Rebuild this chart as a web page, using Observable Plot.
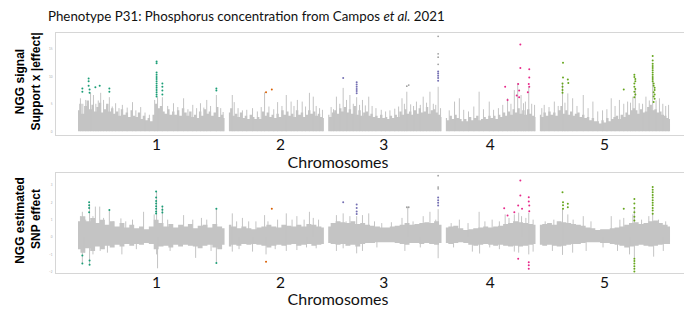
<!DOCTYPE html>
<html><head><meta charset="utf-8">
<script src="https://cdn.jsdelivr.net/npm/d3@7"></script>
<script src="https://cdn.jsdelivr.net/npm/@observablehq/plot@0.6"></script>
<style>
body{margin:0;background:#fff;}
#root{width:684px;height:312px;position:relative;overflow:hidden;background:#fff;}
#title{position:absolute;left:48px;top:10px;font-family:Lato,sans-serif;font-size:13.3px;line-height:13px;color:#111;white-space:nowrap;z-index:2;}
#p1{position:absolute;left:0;top:28px;}
#p2{position:absolute;left:0;top:170px;}
</style>
</head><body>
<div id="root">
  <div id="title">Phenotype P31: Phosphorus concentration from Campos <i>et al.</i> 2021</div>
  <div id="p1"></div>
  <div id="p2"></div>
</div>
<script>
// ---------- data ----------
const chromNames = ["1","2","3","4","5"];
const chromLengths = [30.4, 19.7, 23.5, 18.6, 27.0];   // Mb
const labelAt = [16.2, 10.6, 11.4, 9.1, 13.3];         // Mb within chromosome
const chromColors = ["#1b9e77","#d95f02","#7570b3","#e7298a","#66a61e"];
const topTicks = [0, 5, 10, 15];
const bottomTicks = [-2, -1, 0, 1, 2, 3];

// Top panel: dense envelope, ~0.5 Mb steps along each chromosome
const topBase1 = [3.8,5.0,3.2,4.6, 5.6,4.0,4.8,3.6, 4.4,5.2,3.4,4.0, 5.0,3.6,4.2,3.2, 3.6,2.8,4.0,3.0, 3.4,2.6,3.8,2.8, 2.6,3.4,2.2,2.8, 2.0,2.4,1.8,3.0, 5.0,4.2,4.6,3.6, 3.2,4.0,3.0,3.6, 3.0,3.8,2.8,4.2, 3.4,2.8,3.6,2.6, 3.0,2.4,3.6,2.8, 4.0,3.2,3.6,2.8, 3.4,4.4,2.6,3.0, 2.4];
const topBase2 = [3.4,4.2,2.8,3.2, 2.6,3.4,2.4,2.8, 2.2,3.0,2.6,2.2, 2.6,2.2,3.6,2.8, 3.4,2.6,3.0,2.4, 3.2,2.6,3.8,3.0, 3.6,2.8,3.2,2.6, 3.8,3.0,3.4,2.6, 3.0,3.8,3.2,3.6, 2.8,3.2,2.6,2.4];
const topBase3 = [3.0,2.6,3.4,3.8, 3.2,4.2,3.6,4.4, 3.4,4.0,3.2,4.6, 3.0,3.8,2.8,3.4, 3.6,2.8,3.2,2.6, 2.8,2.4,3.0,2.4, 2.6,2.2,2.8,2.4, 3.0,2.6,3.6,3.0, 4.0,3.2,3.6,3.0, 3.8,3.2,4.2,3.4, 3.6,4.4,3.2,3.8, 4.0,3.4,3.0,2.6];
const topBase4 = [2.4,2.0,2.8,2.2, 3.0,2.4,2.2,1.8, 2.2,1.8,2.6,2.0, 2.4,2.8,2.0,2.2, 2.6,2.2,2.8,2.4, 2.8,2.2,3.0,2.6, 3.4,2.8,3.6,3.0, 4.0,3.4,4.2,3.2, 3.8,3.0,4.0,3.2, 2.8,2.6];
const topBase5 = [3.0,2.6,3.4,2.8, 3.6,3.0,3.4,2.8, 3.8,4.6,3.2,3.8, 3.0,3.6,2.8,3.2, 3.4,2.6,3.0,2.4, 2.6,2.0,2.4,1.8, 1.8,1.4,2.0,1.6, 2.4,1.8,2.2,2.6, 2.8,2.2,3.0,2.6, 3.4,3.0,3.8,4.2, 3.8,3.2,4.0,3.4, 3.6,4.4,4.8,3.8, 4.0,3.4,3.6,3.0, 2.8,2.4,2.2];

// Top panel: spikes [position Mb, value]
const topSpikes1 = [[0.4,6.0],[0.9,5.0],[1.5,5.7],[2.0,5.2],[2.5,7.0],[3.1,6.6],[3.6,5.0],[4.1,5.6],[4.6,7.0],[5.2,5.7],[5.8,4.6],[6.4,6.2],[7.0,4.5],[7.7,5.1],[8.4,4.2],[9.1,4.8],[10.1,4.3],[11.2,5.3],[11.9,3.8],[12.9,4.4],[13.8,3.4],[14.7,3.0],[15.8,5.7],[16.4,6.2],[17.4,6.2],[18.5,4.6],[19.7,5.1],[20.6,4.4],[21.8,6.0],[22.7,4.0],[23.7,4.8],[24.5,4.2],[25.3,5.1],[26.0,4.3],[26.6,5.7],[27.4,4.6],[28.6,6.6],[29.5,4.2],[30.0,3.5]];
const topSpikes2 = [[0.6,6.6],[1.0,5.3],[1.8,4.2],[2.7,3.8],[3.6,3.9],[4.8,4.2],[5.8,3.6],[6.6,4.4],[7.3,7.1],[8.2,4.5],[9.2,4.0],[10.0,5.3],[10.9,4.6],[11.8,6.6],[12.8,5.4],[13.4,4.6],[14.1,5.7],[15.1,5.4],[15.8,4.5],[16.6,7.0],[17.4,6.3],[18.0,4.6],[18.7,4.2],[19.3,3.9]];
const topSpikes3 = [[0.5,4.4],[1.0,4.0],[1.6,6.3],[2.3,5.0],[3.0,7.9],[3.7,5.7],[4.4,6.6],[5.1,5.0],[5.8,6.2],[6.4,4.8],[7.0,5.7],[7.6,4.7],[8.3,6.3],[9.0,4.6],[9.8,4.2],[10.9,3.9],[11.8,3.6],[12.7,3.8],[13.7,4.1],[14.5,4.5],[15.2,6.0],[15.7,5.0],[16.2,7.2],[17.0,4.9],[17.6,4.6],[18.2,5.4],[19.0,4.8],[19.6,6.3],[20.3,5.2],[21.0,7.2],[21.7,5.0],[22.2,4.8],[22.7,8.1],[23.2,4.2]];
const topSpikes4 = [[0.6,3.8],[1.7,5.4],[2.7,6.0],[3.6,3.9],[4.6,3.6],[5.7,4.5],[6.8,7.2],[7.7,4.0],[8.9,5.4],[9.8,3.9],[10.8,4.2],[11.7,4.8],[12.7,6.0],[13.4,5.0],[14.1,7.5],[14.8,8.8],[15.5,6.6],[16.0,5.1],[16.4,5.4],[17.1,8.1],[17.7,5.0],[18.3,4.8]];
const topSpikes5 = [[0.3,4.2],[0.8,4.8],[1.8,4.4],[2.9,5.4],[3.7,4.6],[4.6,8.8],[5.1,5.2],[5.7,6.9],[6.7,6.0],[7.6,4.6],[8.9,6.6],[9.9,4.2],[10.9,5.4],[11.9,3.6],[12.9,3.8],[13.8,4.0],[14.7,6.0],[15.5,4.6],[16.4,5.7],[17.3,5.0],[18.1,5.4],[18.7,5.2],[19.2,6.3],[19.7,7.9],[20.5,5.1],[21.2,5.0],[21.9,6.3],[22.6,5.6],[23.3,9.9],[24.0,5.6],[24.7,6.0],[25.4,5.0],[26.0,4.6],[26.6,4.8]];

// Top panel: highlighted SNPs [position Mb, value]
const hitsTop1 = [[0.8,7.9],[0.8,7.3],[2.1,9.7],[2.1,9.2],[2.1,8.4],[2.3,7.7],[2.3,7.1],[3.5,8.1],[4.4,8.4],[6.4,7.9],[6.4,7.3],[16.2,12.8],[16.2,12.5],[16.2,10.8],[16.2,10.4],[16.2,10.0],[16.2,9.6],[16.2,9.2],[16.2,8.8],[16.2,8.4],[16.2,8.0],[16.2,7.6],[16.2,7.2],[16.2,6.8],[16.2,6.4],[17.4,8.8],[17.4,8.2],[17.4,7.5],[17.4,6.8],[28.6,7.9],[28.6,7.5]];
const hitsTop2 = [[7.6,7.2],[8.8,7.7]];
const hitsTop3 = [[3.0,9.8],[5.8,9.0],[5.8,8.6],[5.8,8.2],[5.8,7.8],[5.8,7.4],[5.8,7.0],[22.7,11.0],[22.7,10.6],[22.7,10.2],[22.7,9.8],[22.7,9.3]];
const hitsTop4 = [[15.35,15.9],[15.35,11.6],[14.9,8.7],[15.1,7.5],[14.6,6.6],[12.2,8.2],[12.7,5.8],[17.2,11.4],[17.2,9.9],[17.1,8.7],[17.2,8.2],[16.9,7.2],[15.1,6.3]];
const hitsTop5 = [[4.7,12.6],[4.7,9.9],[4.6,8.8],[4.6,8.2],[4.6,7.6],[4.6,7.1],[5.7,9.5],[5.8,8.9],[17.3,7.7],[19.5,10.4],[19.5,10.0],[19.7,9.6],[19.7,9.2],[19.5,8.8],[19.5,8.2],[19.7,7.8],[19.5,7.3],[19.7,6.8],[19.5,6.3],[23.3,13.8],[23.3,13.0],[23.3,12.4],[23.3,12.0],[23.3,11.6],[23.3,11.2],[23.3,10.8],[23.3,10.4],[23.3,10.0],[23.3,9.6],[23.3,9.2],[23.5,8.8],[23.5,8.4],[23.7,8.0],[23.7,7.6],[23.5,7.2],[23.7,6.8],[23.5,6.4],[23.7,6.0],[23.5,5.4]];
const grayTop3 = [[16.2,8.3],[16.6,8.5],[22.7,17.4],[22.7,14.2],[22.7,13.6],[22.7,12.3]];

// Bottom panel: dense band (upper / lower), ~1 Mb steps
const botUpper1 = [0.9,1.2,0.9,1.1,0.8,1.0,0.7,0.9,0.6,0.8,0.55,0.7,0.5,0.6,0.45,0.6,1.0,0.8,0.6,0.75,0.55,0.7,0.6,0.75,0.5,0.65,0.7,0.55,0.75,0.6,0.5];
const botLower1 = [-0.7,-0.9,-0.65,-0.8,-0.55,-0.7,-0.5,-0.6,-0.45,-0.55,-0.4,-0.5,-0.4,-0.45,-0.35,-0.4,-0.7,-0.55,-0.5,-0.6,-0.45,-0.55,-0.45,-0.5,-0.55,-0.65,-0.5,-0.45,-0.6,-0.7,-0.45];
const botUpper2 = [0.7,0.6,0.5,0.6,0.5,0.45,0.55,0.6,0.7,0.6,0.55,0.7,0.65,0.6,0.7,0.6,0.75,0.7,0.6,0.55];
const botLower2 = [-0.55,-0.45,-0.5,-0.4,-0.45,-0.4,-0.45,-0.5,-0.6,-0.5,-0.45,-0.5,-0.45,-0.4,-0.5,-0.45,-0.4,-0.5,-0.45,-0.4];
const botUpper3 = [0.6,0.8,0.9,0.85,0.8,0.9,0.75,0.8,0.7,0.65,0.6,0.55,0.55,0.6,0.65,0.7,0.8,0.7,0.75,0.8,0.85,0.8,0.9,0.7];
const botLower3 = [-0.35,-0.4,-0.45,-0.4,-0.5,-0.45,-0.55,-0.4,-0.35,-0.35,-0.3,-0.3,-0.3,-0.3,-0.35,-0.4,-0.45,-0.35,-0.35,-0.4,-0.35,-0.4,-0.45,-0.35];
const botUpper4 = [0.55,0.6,0.65,0.5,0.4,0.45,0.5,0.55,0.6,0.55,0.6,0.65,0.75,0.8,0.9,0.85,0.8,0.75,0.7];
const botLower4 = [-0.35,-0.4,-0.35,-0.3,-0.35,-0.45,-0.5,-0.45,-0.4,-0.45,-0.5,-0.45,-0.5,-0.55,-0.5,-0.55,-0.5,-0.45,-0.4];
const botUpper5 = [0.7,0.75,0.8,0.7,0.9,0.85,0.8,0.75,0.7,0.65,0.55,0.5,0.4,0.45,0.45,0.5,0.55,0.6,0.7,0.8,0.85,0.75,0.8,0.9,0.95,0.8,0.7,0.6];
const botLower5 = [-0.45,-0.5,-0.45,-0.5,-0.55,-0.5,-0.45,-0.4,-0.4,-0.35,-0.3,-0.3,-0.3,-0.35,-0.35,-0.4,-0.45,-0.5,-0.6,-0.55,-0.5,-0.45,-0.5,-0.55,-0.5,-0.45,-0.4,-0.4];

// Bottom panel: spikes [position Mb, value]
const botSpikes1 = [[0.4,1.2],[0.8,1.45],[1.5,1.0],[2.3,1.9],[3.0,1.2],[3.5,1.75],[4.4,1.75],[5.2,1.1],[6.4,1.55],[7.2,0.9],[8.8,1.07],[9.8,0.9],[11.2,1.0],[13.5,1.45],[15.7,1.3],[16.2,2.6],[17.4,1.75],[18.5,1.0],[21.8,1.26],[23.7,1.0],[25.5,1.1],[26.6,1.0],[28.6,1.65],[0.8,-1.5],[1.2,-0.9],[2.3,-1.6],[3.0,-1.0],[4.5,-0.8],[6.0,-0.9],[9.0,-1.0],[12.0,-0.7],[16.2,-1.0],[16.4,-1.8],[19.0,-0.8],[24.3,-1.2],[27.5,-0.8],[28.6,-1.45]];
const botSpikes2 = [[0.6,1.36],[1.5,0.9],[2.7,1.1],[4.0,0.9],[5.5,0.9],[7.3,1.26],[8.0,0.9],[10.0,1.0],[11.8,1.36],[13.0,1.0],[14.0,1.2],[15.5,1.0],[16.6,1.45],[17.4,1.1],[18.5,1.0],[0.6,-0.84],[2.0,-0.7],[4.8,-0.84],[7.6,-1.0],[9.5,-0.7],[11.8,-0.8],[14.0,-0.75],[16.0,-0.6],[18.0,-0.65]];
const botSpikes3 = [[1.6,1.26],[3.0,1.36],[3.6,0.9],[4.4,1.2],[5.8,1.2],[7.0,1.26],[8.3,1.36],[9.5,0.9],[11.0,0.8],[13.0,0.85],[15.2,1.1],[16.4,1.74],[17.5,0.9],[19.6,1.2],[21.0,1.45],[22.2,1.0],[22.7,1.6],[1.6,-0.8],[3.0,-0.65],[5.8,-0.94],[7.0,-0.8],[10.0,-0.6],[15.8,-0.8],[19.0,-0.6],[22.7,-1.22]];
const botSpikes4 = [[1.0,0.8],[2.7,1.0],[4.5,0.8],[6.8,1.45],[8.0,0.9],[9.5,1.0],[11.0,0.9],[12.2,1.3],[13.0,1.1],[14.1,1.3],[15.0,1.4],[15.6,1.2],[16.5,1.1],[17.1,1.4],[18.0,1.0],[1.5,-0.6],[5.4,-0.84],[6.9,-0.95],[9.0,-0.6],[11.0,-0.7],[14.1,-0.84],[15.0,-0.9],[17.1,-1.0],[18.0,-0.84]];
const botSpikes5 = [[1.0,0.9],[2.8,1.0],[4.6,1.6],[5.7,1.3],[6.8,1.0],[8.9,1.2],[10.5,0.9],[14.7,1.2],[16.5,1.0],[17.3,1.1],[19.2,1.3],[19.5,1.6],[21.0,1.0],[22.5,1.2],[23.3,1.4],[24.5,1.0],[26.0,0.9],[2.5,-0.8],[4.6,-1.03],[6.7,-0.9],[9.5,-0.8],[13.0,-0.6],[16.0,-0.8],[18.5,-1.0],[19.5,-1.2],[23.5,-1.13],[25.5,-0.8]];

// Bottom panel: highlighted SNPs
const hitsBot1 = [[0.8,-1.03],[0.8,-1.5],[2.2,2.03],[2.2,1.85],[2.2,1.7],[2.2,1.45],[2.3,-1.32],[2.3,-1.57],[6.4,1.59],[16.1,2.64],[16.1,2.3],[16.1,2.1],[16.1,1.95],[16.1,1.8],[16.1,1.65],[16.1,1.5],[16.1,1.38],[17.4,1.78],[17.4,1.6],[17.4,1.44],[28.6,1.65],[28.6,-1.46]];
const hitsBot2 = [[8.8,1.65],[7.6,-1.4]];
const hitsBot3 = [[3.0,2.03],[5.8,1.9],[5.8,1.7],[5.8,1.5],[5.8,1.35],[22.7,2.3],[22.7,2.15],[22.7,2.0],[22.7,1.84]];
const hitsBot4 = [[12.0,1.68],[12.7,1.26],[14.1,1.45],[14.9,1.84],[15.35,3.28],[15.35,2.41],[15.7,1.65],[17.1,2.32],[17.1,2.07],[17.2,1.84],[17.2,1.51],[14.9,-1.22],[17.1,-1.42],[17.1,-1.6],[17.1,-1.8]];
const hitsBot5 = [[4.6,2.6],[4.7,2.03],[4.7,1.85],[4.7,1.65],[5.7,1.94],[5.7,1.74],[17.3,1.65],[19.5,2.22],[19.5,1.95],[19.5,1.7],[19.5,1.45],[19.5,1.2],[19.5,0.98],[23.3,2.9],[23.3,2.75],[23.3,2.6],[23.3,2.45],[23.3,2.3],[23.3,2.15],[23.3,2.0],[23.3,1.85],[23.3,1.7],[23.3,1.55],[23.3,1.36],[19.5,-1.22],[19.5,-1.35],[19.5,-1.5],[19.5,-1.65],[19.5,-1.8],[19.5,-1.95]];
const grayBot3 = [[22.7,3.56],[22.7,2.9],[22.7,2.8],[16.2,1.74],[16.6,1.74]];

// ---------- build ----------
const GAP = 0.9;
const offsets = [];
{ let acc = 0; for (const L of chromLengths) { offsets.push(acc); acc += L + GAP; } }
const gx = (c, p) => offsets[c] + p;
const tickX = labelAt.map((p, c) => gx(c, p));

const even = (arrs) => arrs.flatMap((arr, c) => arr.map((v, i) => ({chr: c, x: gx(c, i * chromLengths[c] / (arr.length - 1)), v})));
const band = (ups, los) => ups.flatMap((arr, c) => arr.map((v, i) => ({chr: c, x: gx(c, i * chromLengths[c] / (arr.length - 1)), hi: v, lo: los[c][i]})));
const pts = (arrs) => arrs.flatMap((arr, c) => arr.map(([p, v]) => ({chr: c, x: gx(c, p), v})));

const GRAY = "#c4c4c4";
const XDOM = [-4.77, 125.7];
const TITLE_FONT = "Liberation Sans, Arial, sans-serif";

function panel({yDomain, ticks, marginTop, marginBottom, height, under, spikes, hits, grays, titles, titleDy}) {
  return Plot.plot({
    width: 684, height, marginLeft: 55, marginRight: 0, marginTop, marginBottom,
    style: {fontFamily: "Lato, sans-serif", background: "transparent", overflow: "visible"},
    x: {domain: XDOM, axis: null},
    y: {domain: yDomain, axis: null},
    marks: [
      Plot.ruleY([yDomain[1], yDomain[0]], {stroke: "#d6d6d6", strokeWidth: 1}),
      Plot.ruleX([XDOM[0]], {stroke: "#d6d6d6", strokeWidth: 1}),
      under,
      Plot.ruleX(pts(spikes), {x: "x", y1: 0, y2: "v", stroke: GRAY, strokeWidth: 1}),
      Plot.dot(pts(grays), {x: "x", y: "v", r: 0.9, fill: "#a0a0a0"}),
      Plot.dot(pts(hits), {x: "x", y: "v", r: 1.0, fill: d => chromColors[d.chr]}),
      Plot.axisY(ticks, {tickSize: 0, tickPadding: 3, fontSize: 3, fill: "#aaa", label: null}),
      Plot.axisX(tickX, {tickSize: 0, tickPadding: 3, fontSize: 15.5, fill: "#111", label: null,
        tickFormat: d => chromNames[tickX.indexOf(d)]}),
      Plot.text(["Chromosomes"], {text: d => d, frameAnchor: "bottom", dx: -32, dy: titleDy, lineAnchor: "top", fontSize: 16, fill: "#111"}),
      Plot.text([titles[0]], {text: d => d, frameAnchor: "left", textAnchor: "middle", lineAnchor: "middle", rotate: -90, dx: -35, dy: titles[2], fontWeight: "bold", fontSize: 12, fontFamily: TITLE_FONT, fill: "#000"}),
      Plot.text([titles[1]], {text: d => d, frameAnchor: "left", textAnchor: "middle", lineAnchor: "middle", rotate: -90, dx: -19, dy: titles[3], fontWeight: "bold", fontSize: 12, fontFamily: TITLE_FONT, fill: "#000"})
    ]
  });
}

const topUnder = Plot.areaY(even([topBase1, topBase2, topBase3, topBase4, topBase5]),
  {x: "x", y1: 0, y2: "v", z: "chr", fill: GRAY, curve: "step"});
const botUnder = Plot.areaY(band([botUpper1, botUpper2, botUpper3, botUpper4, botUpper5], [botLower1, botLower2, botLower3, botLower4, botLower5]),
  {x: "x", y1: "lo", y2: "hi", z: "chr", fill: GRAY, curve: "step"});

document.getElementById("p1").appendChild(panel({
  yDomain: [-0.7, 18.1], ticks: topTicks, marginTop: 4, marginBottom: 35, height: 142,
  under: topUnder,
  spikes: [topSpikes1, topSpikes2, topSpikes3, topSpikes4, topSpikes5],
  hits: [hitsTop1, hitsTop2, hitsTop3, hitsTop4, hitsTop5],
  grays: [[], [], grayTop3, [], []],
  titles: ["NGG signal", "Support x |effect|", -2.5, -2.5], titleDy: 21
}));
document.getElementById("p2").appendChild(panel({
  yDomain: [-2.07, 3.74], ticks: bottomTicks, marginTop: 2, marginBottom: 39, height: 142,
  under: botUnder,
  spikes: [botSpikes1, botSpikes2, botSpikes3, botSpikes4, botSpikes5],
  hits: [hitsBot1, hitsBot2, hitsBot3, hitsBot4, hitsBot5],
  grays: [[], [], grayBot3, [], []],
  titles: ["NGG estimated", "SNP effect", -2.5, -4], titleDy: 20
}));
</script>
</body></html>
